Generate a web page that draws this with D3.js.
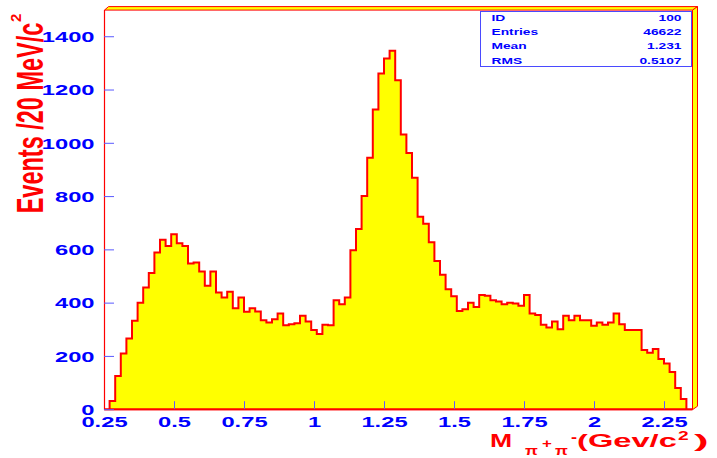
<!DOCTYPE html>
<html>
<head>
<meta charset="utf-8">
<script src="https://cdn.jsdelivr.net/npm/d3@7"></script>
<style>
  html, body { margin: 0; padding: 0; background: #fff; }
  svg { display: block; }
  text { font-family: "Liberation Sans", Arial, Helvetica, sans-serif; font-weight: bold; }
</style>
</head>
<body>
<svg id="chart" width="717" height="458"></svg>
<script>
// pi+ pi- invariant mass spectrum, 20 MeV/c^2 bins from 0.25 to 2.35 GeV/c^2
const binLow = 0.25;
const binHigh = 2.35;
const binWidth = 0.02;
const counts = [
  0, 31, 125, 209, 265, 332, 400, 457, 511, 588,
  636, 613, 657, 623, 613, 547, 551, 517, 463, 517,
  438, 419, 441, 379, 419, 366, 379, 367, 334, 325,
  338, 359, 315, 319, 323, 351, 329, 297, 282, 317,
  315, 409, 394, 419, 597, 676, 800, 944, 1125, 1260,
  1316, 1346, 1235, 1031, 962, 869, 722, 696, 627, 556,
  505, 450, 424, 369, 375, 400, 384, 429, 426, 409,
  404, 394, 400, 397, 388, 429, 359, 354, 317, 307,
  329, 300, 351, 334, 351, 334, 334, 313, 325, 317,
  325, 359, 319, 297, 297, 297, 222, 212, 226, 188,
  172, 140, 80, 38, 0
];
const yMax = 1500;
const xTickValues = [0.25, 0.5, 0.75, 1, 1.25, 1.5, 1.75, 2, 2.25];
const xTickLabels = ["0.25", "0.5", "0.75", "1", "1.25", "1.5", "1.75", "2", "2.25"];
const xMinorTicks = [0.375, 0.625, 0.875, 1.125, 1.375, 1.625, 1.875, 2.125];
const yTickValues = [0, 200, 400, 600, 800, 1000, 1200, 1400];
const yMinorTicks = [50, 100, 150, 250, 300, 350, 450, 500, 550, 650, 700, 750, 850, 900, 950,
                     1050, 1100, 1150, 1250, 1300, 1350, 1450];
const statNames = ["ID", "Entries", "Mean", "RMS"];
const statValues = ["100", "46622", "1.231", "0.5107"];

const RED = "#ff0000", BLUE = "#0000ff", YELLOW = "#ffff00", TICK = "#5a5aff";

const svg = d3.select("#chart");

const x = d3.scaleLinear().domain([binLow, binHigh]).range([104, 692]);
const y = d3.scaleLinear().domain([0, yMax]).range([409.2, 9.6]);

// stretched text helper: horizontal scale sx about the anchor point
function label(parent, px, py, str, size, color, anchor, sx) {
  return parent.append("text")
    .attr("transform", `translate(${px},${py}) scale(${sx},1)`)
    .attr("text-anchor", anchor || "start")
    .attr("font-size", size)
    .attr("fill", color)
    .text(str);
}

// frame bevel along the top and right edges
const fx0 = x(binLow) + 0.5, fx1 = x(binHigh) + 0.5, fy0 = y(yMax) + 0.5, fy1 = y(0) + 0.5;
const bev = 4;
svg.append("polygon")
  .attr("points", [[fx0, fy0], [fx0 + bev, fy0 - 3.5], [fx1 + bev + 1, fy0 - 3.5], [fx1, fy0]].join(" "))
  .attr("fill", YELLOW).attr("stroke", RED).attr("stroke-width", 1);
svg.append("polygon")
  .attr("points", [[fx1, fy0], [fx1 + bev + 1, fy0 - 3.5], [fx1 + bev + 1, fy1 - 3.5], [fx1, fy1]].join(" "))
  .attr("fill", YELLOW).attr("stroke", RED).attr("stroke-width", 1);

// histogram as a filled step outline
const pts = [[x(binLow), y(0)]];
counts.forEach((c, i) => {
  const a = binLow + i * binWidth, b = a + binWidth;
  pts.push([x(a), y(c)], [x(b), y(c)]);
});
pts.push([x(binHigh), y(0)]);
svg.append("path")
  .attr("d", d3.line()(pts) + "Z")
  .attr("fill", YELLOW)
  .attr("stroke", RED)
  .attr("stroke-width", 2)
  .attr("stroke-linejoin", "miter");

// x axis: ticks point up into the frame
const gx = svg.append("g").attr("transform", `translate(0,${y(0)})`);
gx.call(d3.axisBottom(x).tickValues(xMinorTicks).tickSize(-4).tickSizeOuter(0).tickFormat(""));
gx.call(d3.axisBottom(x).tickValues(xTickValues).tickSize(-8).tickSizeOuter(0)
  .tickFormat((d, i) => xTickLabels[i]));
gx.select(".domain").attr("stroke", RED).attr("stroke-width", 1.2);
gx.selectAll(".tick line").attr("stroke", TICK);
gx.selectAll(".tick text")
  .attr("y", null).attr("dy", null)
  .attr("transform", "translate(0,17.3) scale(1.58,1)")
  .attr("font-size", 15).attr("fill", BLUE)
  .attr("font-family", null);

// y axis: ticks point right into the frame
const gy = svg.append("g").attr("transform", `translate(${x(binLow)},0)`);
gy.call(d3.axisLeft(y).tickValues(yMinorTicks).tickSize(-5).tickSizeOuter(0).tickFormat(""));
gy.call(d3.axisLeft(y).tickValues(yTickValues).tickSize(-10).tickSizeOuter(0)
  .tickFormat(d3.format("d")));
gy.select(".domain").attr("stroke", RED).attr("stroke-width", 1.2);
gy.selectAll(".tick line").attr("stroke", TICK);
gy.selectAll(".tick text")
  .attr("x", null).attr("dy", null)
  .attr("transform", "translate(-9.5,5.3) scale(1.58,1)")
  .attr("font-size", 15).attr("fill", BLUE)
  .attr("font-family", null);
svg.selectAll(".domain").attr("fill", "none");
svg.selectAll("g").attr("font-size", null).attr("font-family", null);

// statistics box
const sb = svg.append("g");
sb.append("rect")
  .attr("x", 480.5).attr("y", 11.5).attr("width", 211).attr("height", 55)
  .attr("fill", "#fff").attr("stroke", "#4a4aff").attr("stroke-width", 1);
statNames.forEach((n, i) => {
  const by = 20.7 + i * 14.3;
  label(sb, 491.5, by, n, 9.3, BLUE, "start", 1.48);
  label(sb, 681.5, by, statValues[i], 9.3, BLUE, "end", 1.48);
});

// y-axis title, rotated and stretched
svg.append("text")
  .attr("transform", "translate(43.3,213.3) rotate(-90) scale(1,1.55)")
  .attr("font-size", 23.5).attr("fill", RED)
  .text("Events /20 MeV/c");
svg.append("text")
  .attr("transform", "translate(20.5,22) rotate(-90)")
  .attr("font-size", 15).attr("fill", RED)
  .text("2");

// x-axis title with sub/superscripts
const tx = svg.append("g");
label(tx, 490, 447, "M", 19, RED, "start", 1.4);
label(tx, 525, 455, "\u03c0", 12, RED, "start", 1.4);
label(tx, 542, 448, "+", 13, RED, "start", 1.3);
label(tx, 555, 455, "\u03c0", 12, RED, "start", 1.4);
label(tx, 571, 442, "-", 14, RED, "start", 1.3);
label(tx, 577, 447, "(Gev/c", 19, RED, "start", 1.72);
label(tx, 678, 440, "2", 12, RED, "start", 1.6);
label(tx, 694, 447, ")", 19, RED, "start", 2.3);
</script>
</body>
</html>
